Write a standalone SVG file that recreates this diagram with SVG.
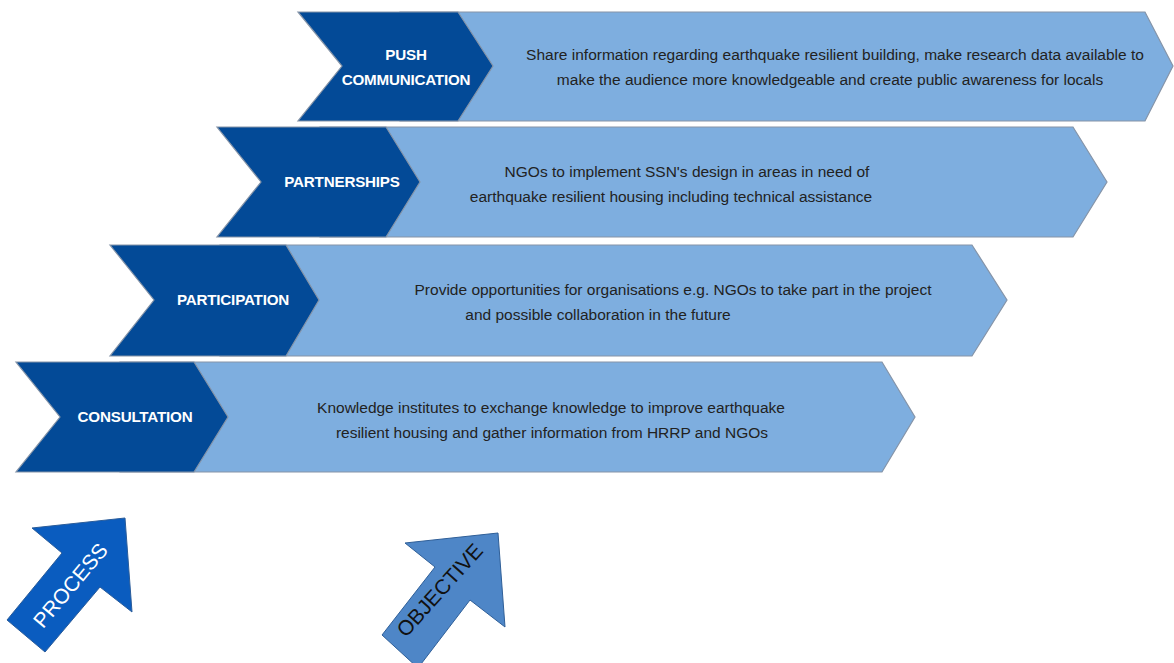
<svg xmlns="http://www.w3.org/2000/svg" width="1174" height="663" viewBox="0 0 1174 663">
<style>
.light{fill:#7eaedf;stroke:#8594a8;stroke-width:1.2}
.dark{fill:#034a97;stroke:#8594a8;stroke-width:1.2}
.lbl{font-family:"Liberation Sans",Arial,sans-serif;font-weight:bold;font-size:15.2px;fill:#fff;text-anchor:middle;letter-spacing:-0.2px}
.txt{font-family:"Liberation Sans",Arial,sans-serif;font-size:15.5px;fill:#222;text-anchor:middle}
.big{font-family:"Liberation Sans",Arial,sans-serif;font-size:21px;text-anchor:middle}
</style>
<rect width="1174" height="663" fill="#fff"/>
<g id="row-push">
<polygon class="light" points="400,12 1145,12 1173,66 1145,121 400,121"/>
<polygon class="dark" points="298,12 458,12 493,66 458,121 298,121 342,66"/>
<text class="lbl" x="406" y="60">PUSH</text>
<text class="lbl" x="406" y="85">COMMUNICATION</text>
<text class="txt" x="835" y="60">Share information regarding earthquake resilient building, make research data available to</text>
<text class="txt" x="830" y="85">make the audience more knowledgeable and create public awareness for locals</text>
</g>
<g id="row-partnerships">
<polygon class="light" points="320,127 1073,127 1107,182 1073,237 320,237"/>
<polygon class="dark" points="217,127 386,127 420,182 386,237 217,237 261,182"/>
<text class="lbl" x="342" y="187">PARTNERSHIPS</text>
<text class="txt" x="687" y="177">NGOs to implement SSN's design in areas in need of</text>
<text class="txt" x="671" y="202">earthquake resilient housing including technical assistance</text>
</g>
<g id="row-participation">
<polygon class="light" points="220,245 972,245 1007,300 972,356 220,356"/>
<polygon class="dark" points="110,245 286,245 319,300 286,356 110,356 154,300"/>
<text class="lbl" x="233" y="305">PARTICIPATION</text>
<text class="txt" x="673" y="295">Provide opportunities for organisations e.g. NGOs to take part in the project</text>
<text class="txt" x="598" y="320">and possible collaboration in the future</text>
</g>
<g id="row-consultation">
<polygon class="light" points="120,362 882,362 915,417 882,472 120,472"/>
<polygon class="dark" points="16,362 194,362 228,417 194,472 16,472 60,417"/>
<text class="lbl" x="135" y="422">CONSULTATION</text>
<text class="txt" x="551" y="413">Knowledge institutes to exchange knowledge to improve earthquake</text>
<text class="txt" x="552" y="438">resilient housing and gather information from HRRP and NGOs</text>
</g>
<g id="process-arrow">
<polygon points="125,518 132,612 100,587 45,652 7,620 62,553 32,528" fill="#0a5cbf" stroke="#2a5c9a" stroke-width="1"/>
<text class="big" fill="#fff" transform="translate(76,590) rotate(-50)">PROCESS</text>
</g>
<g id="objective-arrow">
<polygon points="498,533 505,627 470,600 418,668 382,635 435,567 405,543" fill="#4e86c7" stroke="#2f5f98" stroke-width="1"/>
<text class="big" fill="#111" transform="translate(445,595) rotate(-48)">OBJECTIVE</text>
</g>
<g id="connectors"></g>
</svg>
